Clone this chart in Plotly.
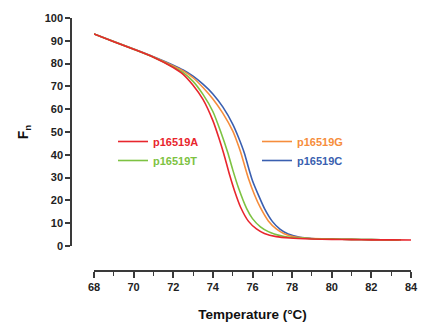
import plotly.graph_objects as go

# ---- data ----
temp_A = [68, 69, 70, 71, 72, 72.5, 73, 73.5, 74, 74.3, 74.55, 74.85, 75.1, 75.4, 75.8, 76.2, 76.6, 77.2, 77.9, 79, 80, 81, 82, 83, 84]
fn_A = [93, 89.6, 86.3, 82.8, 78.3, 75.3, 70.5, 64.3, 55, 47.5, 40.5, 31, 24, 17, 10.8, 7.5, 5.5, 4.1, 3.5, 3.1, 2.9, 2.8, 2.7, 2.7, 2.6]

temp_T = [68, 69, 70, 71, 72, 72.5, 73, 73.5, 74, 74.4, 74.75, 75.0, 75.3, 75.7, 76.0, 76.4, 76.8, 77.1, 77.6, 78, 79, 80, 81, 82, 83, 83.5]
fn_T = [93, 89.6, 86.3, 82.8, 78.5, 76.0, 72.2, 66.5, 59, 50, 41, 33.5, 25.3, 16.5, 12.0, 8.4, 6.3, 5.3, 4.2, 3.7, 3.2, 3.0, 2.9, 2.8, 2.7, 2.7]

temp_G = [68, 69, 70, 71, 72, 72.5, 73, 73.5, 74, 74.5, 75, 75.2, 75.4, 75.6, 75.8, 76.1, 76.4, 76.8, 77.2, 77.6, 78.1, 78.6, 79, 80, 81, 82, 83, 83.4]
fn_G = [93, 89.7, 86.4, 82.9, 79.0, 76.8, 73.8, 69.5, 64.5, 58.3, 50.5, 46.2, 41.2, 35.3, 29.5, 22.5, 16.8, 11, 7.5, 5.4, 4.0, 3.5, 3.3, 3.0, 2.9, 2.8, 2.7, 2.7]

temp_C = [68, 69, 70, 71, 72, 72.5, 73, 73.5, 74, 74.5, 75, 75.3, 75.6, 75.8, 76, 76.3, 76.6, 77, 77.4, 77.8, 78.4, 79, 80, 81, 82, 83, 83.3]
fn_C = [93, 89.7, 86.4, 83.0, 79.3, 77.2, 74.5, 71.0, 66.7, 61.0, 53.5, 47.5, 40.5, 34.3, 28.6, 22.3, 16.5, 10.8, 7.3, 5.3, 3.8, 3.3, 3.0, 2.9, 2.8, 2.7, 2.7]

names = ["p16519A", "p16519T", "p16519G", "p16519C"]
colors = {"p16519A": "#e8262d", "p16519T": "#7dc242", "p16519G": "#f68d3c", "p16519C": "#3a5fb0"}

x_ticks = [68, 70, 72, 74, 76, 78, 80, 82, 84]
y_ticks = [0, 10, 20, 30, 40, 50, 60, 70, 80, 90, 100]

series = {
    "p16519A": (temp_A, fn_A, "legend"),
    "p16519T": (temp_T, fn_T, "legend"),
    "p16519G": (temp_G, fn_G, "legend2"),
    "p16519C": (temp_C, fn_C, "legend2"),
}

FONT = "Arial, Liberation Sans, sans-serif"
AX = "#3a3a3a"

fig = go.Figure()
# draw order: blue, orange, green, red on top
for nm in ["p16519C", "p16519G", "p16519T", "p16519A"]:
    xs, ys, lg = series[nm]
    fig.add_trace(go.Scatter(
        x=xs, y=ys, mode="lines",
        line=dict(color=colors[nm], width=1.6, shape="spline", smoothing=0.6),
        name='<span style="color:%s">%s</span>' % (colors[nm], nm),
        legend=lg, legendrank={"p16519A": 1, "p16519T": 2, "p16519G": 1, "p16519C": 2}[nm],
    ))

# page body has an 8px margin: the figure is drawn 8px right/down of the window origin
OFF = 8
W, H = 427 - OFF, 322 - OFF
# reference-pixel frame
L_ref, R_ref, T_ref, B_ref = 71, 411, 18, 271
L, T = L_ref - OFF, T_ref - OFF
R = W - (R_ref - OFF)
B = H - (B_ref - OFF)
pw, ph = R_ref - L_ref, B_ref - T_ref

def px_x(p):
    return (p - L_ref) / pw

def px_y(p):
    return (B_ref - p) / ph

fig.update_layout(
    width=W, height=H,
    margin=dict(l=L, r=R, t=T, b=B, pad=0),
    paper_bgcolor="white", plot_bgcolor="white",
    font=dict(family=FONT, color="#222222"),
    xaxis=dict(
        domain=[px_x(94), 1], range=[68, 84], anchor="free", position=0,
        showgrid=False, zeroline=False, showline=True, linecolor=AX, linewidth=1.5,
        ticks="outside", ticklen=6, tickwidth=1.5, tickcolor=AX,
        tickvals=x_ticks, ticktext=[str(v) for v in x_ticks],
        tickfont=dict(size=11, family=FONT, color="#222222", weight="bold"),
        minor=dict(dtick=1, tick0=68, ticks="outside", ticklen=4, tickwidth=1.2, tickcolor=AX, showgrid=False),
        title=dict(text="Temperature (°C)", font=dict(size=13.5, family=FONT, color="#111111", weight="bold"), standoff=17),
        automargin=False,
    ),
    yaxis=dict(
        domain=[px_y(246), 1], range=[0, 100], anchor="free", position=0,
        showgrid=False, zeroline=False, showline=True, linecolor=AX, linewidth=1.5,
        ticks="outside", ticklen=5, tickwidth=1.5, tickcolor=AX,
        tickvals=y_ticks, ticktext=[str(v) for v in y_ticks],
        tickfont=dict(size=11, family=FONT, color="#222222", weight="bold"),
        title=dict(text="F<sub>n</sub>", font=dict(size=14, family=FONT, color="#111111", weight="bold"), standoff=12),
        automargin=False,
    ),
    legend=dict(
        x=px_x(113), y=px_y(127), xanchor="left", yanchor="top",
        bgcolor="rgba(0,0,0,0)", borderwidth=0, itemwidth=30,
        font=dict(size=11, family=FONT, weight="bold"), tracegroupgap=0,
    ),
    legend2=dict(
        x=px_x(257), y=px_y(127), xanchor="left", yanchor="top",
        bgcolor="rgba(0,0,0,0)", borderwidth=0, itemwidth=30,
        font=dict(size=11, family=FONT, weight="bold"), tracegroupgap=0,
    ),
    showlegend=True,
)

fig.write_html("out.html")
